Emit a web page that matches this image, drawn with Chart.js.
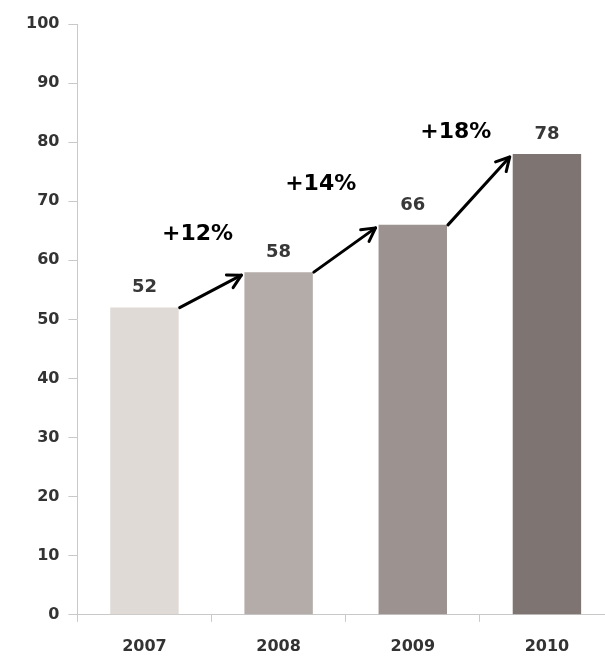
<!DOCTYPE html>
<html>
<head>
<meta charset="utf-8">
<script src="https://cdn.jsdelivr.net/npm/chart.js@4"></script>
<style>
    html, body { margin: 0; padding: 0; background: #fff; overflow: hidden; }
    #wrap { position: absolute; left: 0; top: 0; width: 614px; height: 673px; }
</style>
</head>
<body>
<div id="wrap"><canvas id="growthChart"></canvas></div>
<script>
// chart data
const years = ['2007', '2008', '2009', '2010'];
const values = [52, 58, 66, 78];
const growthLabels = ['+12%', '+14%', '+18%'];
const yTickValues = [0, 10, 20, 30, 40, 50, 60, 70, 80, 90, 100];

const barColors = ['#dfdad6', '#b4aca8', '#9c928f', '#7e7572'];
const FONT = '"DejaVu Sans", Verdana, sans-serif';

// value labels above bars + arrows with growth text between bars
const growthPlugin = {
    id: 'growthArrows',
    afterDatasetsDraw(chart, args, opts) {
        const ctx = chart.ctx;
        const bars = chart.getDatasetMeta(0).data;
        ctx.save();

        // values over the bars
        ctx.font = 'bold 18px ' + FONT;
        ctx.fillStyle = '#383838';
        ctx.textAlign = 'center';
        ctx.textBaseline = 'middle';
        bars.forEach((bar, i) => {
            ctx.fillText(values[i], bar.x, bar.y - 20);
        });

        // arrows from one bar top to the next
        ctx.strokeStyle = '#000';
        ctx.lineWidth = 3;
        ctx.lineCap = 'round';
        ctx.lineJoin = 'round';
        for (let i = 0; i < bars.length - 1; i++) {
            const a = bars[i], b = bars[i + 1];
            const x1 = a.x + a.width / 2 + 1, y1 = a.y;
            const x2 = b.x - b.width / 2 - 3, y2 = b.y + 3;
            ctx.beginPath();
            ctx.moveTo(x1, y1);
            ctx.lineTo(x2, y2);
            ctx.stroke();
            const ang = Math.atan2(y2 - y1, x2 - x1);
            const head = 15;
            ctx.beginPath();
            ctx.moveTo(x2 - head * Math.cos(ang - 0.5), y2 - head * Math.sin(ang - 0.5));
            ctx.lineTo(x2, y2);
            ctx.lineTo(x2 - head * Math.cos(ang + 0.5), y2 - head * Math.sin(ang + 0.5));
            ctx.stroke();

            const off = opts.offsets[i];
            ctx.font = 'bold 22px ' + FONT;
            ctx.fillStyle = '#000';
            ctx.fillText(growthLabels[i], (x1 + x2) / 2 + off[0], (y1 + y2) / 2 + off[1]);
        }
        ctx.restore();
    }
};

new Chart(document.getElementById('growthChart'), {
    type: 'bar',
    data: {
        labels: years,
        datasets: [{
            data: values,
            backgroundColor: barColors,
            borderWidth: 0,
            categoryPercentage: 1,
            barPercentage: 0.51
        }]
    },
    options: {
        responsive: true,
        maintainAspectRatio: false,
        animation: false,
        layout: { padding: { left: 17, top: 24, right: 0, bottom: 2 } },
        plugins: {
            legend: { display: false },
            tooltip: { enabled: false },
            growthArrows: { offsets: [[-13, -57], [-24, -66], [-23, -59]] }
        },
        scales: {
            x: {
                grid: {
                    display: true,
                    drawOnChartArea: false,
                    drawTicks: true,
                    tickLength: 7,
                    color: '#c9c9c9'
                },
                border: { display: true, color: '#c9c9c9', width: 1 },
                ticks: {
                    color: '#333',
                    font: { family: FONT, size: 16, weight: 'bold' },
                    padding: 15
                }
            },
            y: {
                min: 0,
                max: 100,
                afterBuildTicks: (axis) => {
                    axis.ticks = yTickValues.map(v => ({ value: v }));
                },
                grid: {
                    display: true,
                    drawOnChartArea: false,
                    drawTicks: true,
                    tickLength: 9,
                    color: '#c9c9c9'
                },
                border: { display: true, color: '#c9c9c9', width: 1 },
                ticks: {
                    color: '#333',
                    font: { family: FONT, size: 16, weight: 'bold' },
                    padding: 9
                }
            }
        }
    },
    plugins: [growthPlugin]
});
</script>
</body>
</html>
